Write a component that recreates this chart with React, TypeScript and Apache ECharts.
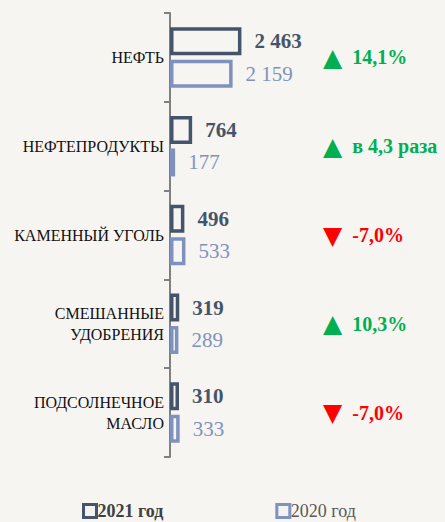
import React, { useEffect, useRef } from "react";
import * as echarts from "echarts";

const categories = ["НЕФТЬ", "НЕФТЕПРОДУКТЫ", "КАМЕННЫЙ УГОЛЬ", "СМЕШАННЫЕ\nУДОБРЕНИЯ", "ПОДСОЛНЕЧНОЕ\nМАСЛО"];
const values2021 = [2463, 764, 496, 319, 310];
const values2020 = [2159, 177, 533, 289, 333];
const changeLabels = ["14,1%", "в 4,3 раза", "-7,0%", "10,3%", "-7,0%"];
const changeUp = [true, true, false, true, false];
const seriesNames = ["2021 год", "2020 год"];

const BG = "#f7f5f2";
const DARK = "#44546a";
const LIGHT = "#7f92bd";
const SERIF = "'Liberation Serif', 'Times New Roman', serif";

const fmt = (v: number) => String(v).replace(/\B(?=(\d{3})+(?!\d))/g, " ");

export default function App() {
  const ref = useRef<HTMLDivElement>(null);
  useEffect(() => {
    document.body.style.margin = "0";
    const chart = echarts.init(ref.current!, undefined, { renderer: "svg" });
    chart.setOption({
      animation: false,
      backgroundColor: BG,
      grid: { left: 170, top: 13, bottom: 65, width: 145 },
      xAxis: { type: "value", min: 0, max: 5000, show: false },
      yAxis: [
        {
          type: "category",
          data: categories,
          inverse: true,
          axisLine: { show: true, lineStyle: { color: "#808080", width: 2 } },
          axisTick: { show: true, length: 6, lineStyle: { color: "#808080", width: 2 } },
          axisLabel: {
            margin: 6,
            color: "#111",
            fontSize: 16,
            fontFamily: SERIF,
            lineHeight: 21,
            padding: [5, 0, 0, 0],
            align: "right",
          },
        },
        {
          type: "category",
          data: changeLabels,
          inverse: true,
          position: "right",
          axisLine: { show: false },
          axisTick: { show: false },
          axisLabel: {
            margin: 8,
            formatter: (v: string, i: number) =>
              changeUp[i] ? `{up|▲}{g|${v}}` : `{dn|▼}{r|${v}}`,
            rich: {
              up: { color: "#00b050", fontSize: 25, fontFamily: "DejaVu Sans", padding: [0, 10, 0, 0] },
              dn: { color: "#ff0000", fontSize: 25, fontFamily: "DejaVu Sans", padding: [0, 10, 0, 0] },
              g: { color: "#00b050", fontSize: 20, fontWeight: "bold", fontFamily: SERIF },
              r: { color: "#ff0000", fontSize: 20, fontWeight: "bold", fontFamily: SERIF },
            },
          },
        },
      ],
      legend: {
        left: 77,
        top: 497,
        itemWidth: 13,
        itemHeight: 13,
        itemGap: 112,
        icon: "rect",
        data: [
          {
            name: seriesNames[0],
            itemStyle: { color: "#f2f2f2", borderColor: DARK, borderWidth: 3 },
            textStyle: { color: "#404040", fontWeight: "bold", fontSize: 18, fontFamily: SERIF, padding: [0, 0, 0, -4] },
          },
          {
            name: seriesNames[1],
            itemStyle: { color: "#f2f2f2", borderColor: LIGHT, borderWidth: 3 },
            textStyle: { color: "#595959", fontSize: 18, fontFamily: SERIF, padding: [0, 0, 0, -4] },
          },
        ],
      },
      series: [
        {
          name: seriesNames[0],
          type: "bar",
          data: values2021,
          barWidth: 28,
          barGap: "16%",
          itemStyle: { color: BG, borderColor: DARK, borderWidth: 3.5 },
          label: {
            show: true,
            position: "right",
            distance: 13,
            formatter: (p: any) => fmt(p.value),
            color: DARK,
            fontWeight: "bold",
            fontSize: 21,
            fontFamily: SERIF,
          },
        },
        {
          name: seriesNames[1],
          type: "bar",
          data: values2020,
          barWidth: 28,
          itemStyle: { color: BG, borderColor: LIGHT, borderWidth: 3.5 },
          label: {
            show: true,
            position: "right",
            distance: 13,
            formatter: (p: any) => fmt(p.value),
            color: LIGHT,
            fontSize: 21,
            fontFamily: SERIF,
          },
        },
      ],
    });
    return () => chart.dispose();
  }, []);
  return <div ref={ref} style={{ position: "absolute", left: 0, top: 0, width: 445, height: 522 }} />;
}
